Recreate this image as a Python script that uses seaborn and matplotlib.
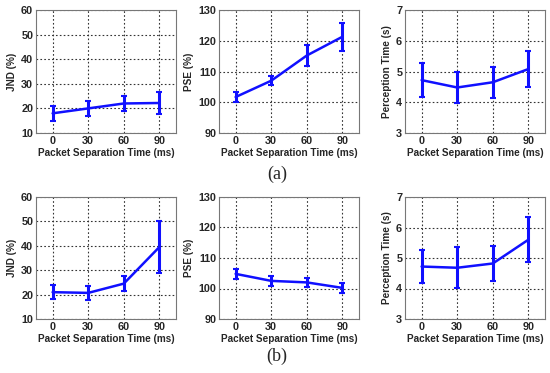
import numpy as np
import pandas as pd
import matplotlib
matplotlib.use('Agg')
import matplotlib.pyplot as plt
import seaborn as sns

times = [0, 30, 60, 90]

# row (a)
jnd_a = [18.0, 20.0, 22.0, 22.2]
jnd_a_err = [3.0, 3.0, 3.0, 4.3]
pse_a = [101.7, 107.0, 115.2, 121.3]
pse_a_err = [1.7, 1.5, 3.5, 4.5]
pt_a = [4.72, 4.48, 4.65, 5.08]
pt_a_err = [0.55, 0.50, 0.50, 0.58]

# row (b)
jnd_b = [21.0, 20.7, 24.5, 39.5]
jnd_b_err = [2.8, 2.8, 3.2, 10.7]
pse_b = [104.8, 102.5, 102.0, 100.2]
pse_b_err = [1.6, 1.7, 1.4, 1.6]
pt_b = [4.72, 4.68, 4.82, 5.60]
pt_b_err = [0.55, 0.67, 0.58, 0.74]

ylabels = ['JND (%)', 'PSE (%)', 'Perception Time (s)']
ylims = [(10, 60), (90, 130), (3, 7)]
yticks = [[10, 20, 30, 40, 50, 60], [90, 100, 110, 120, 130], [3, 4, 5, 6, 7]]

sns.set_style('white')
plt.rcParams['font.family'] = ['Liberation Sans', 'DejaVu Sans']
plt.rcParams['font.weight'] = 'bold'

fig = plt.figure(figsize=(5.5, 3.73), dpi=100)

lefts = [36 / 550, 219 / 550, 405 / 550]
width = 140 / 550
rows = [(1 - 133 / 373, 123 / 373), (1 - 319 / 373, 122 / 373)]
data = [[(jnd_a, jnd_a_err), (pse_a, pse_a_err), (pt_a, pt_a_err)],
        [(jnd_b, jnd_b_err), (pse_b, pse_b_err), (pt_b, pt_b_err)]]
blue = '#1010ff'
fs_tick = 7.8
fs_lab = 7.2

for r, (bottom, height) in enumerate(rows):
    for c in range(3):
        ax = fig.add_axes([lefts[c], bottom, width, height])
        vals, errs = data[r][c]
        df = pd.DataFrame({'t': times, 'v': vals})
        sns.lineplot(data=df, x='t', y='v', ax=ax, color=blue, linewidth=1.8)
        ax.errorbar(times, vals, yerr=errs, fmt='none', ecolor=blue,
                    elinewidth=2.2, capsize=2, capthick=1.5)
        ax.set_xlim(-14, 104)
        ax.set_ylim(*ylims[c])
        ax.set_xticks(times)
        ax.set_yticks(yticks[c])
        ax.grid(True, color='#333333', linestyle=(0, (1.5, 2)), linewidth=0.8)
        ax.set_axisbelow(True)
        for s in ax.spines.values():
            s.set_color('#777777')
            s.set_linewidth(0.8)
        ax.tick_params(axis='both', length=0, labelsize=fs_tick, pad=2)
        for lab in ax.get_xticklabels() + ax.get_yticklabels():
            lab.set_fontweight('bold')
        ax.set_xlabel('Packet Separation Time (ms)', fontsize=fs_lab,
                      fontweight='bold', labelpad=1.5)
        ax.set_ylabel(ylabels[c], fontsize=fs_lab, fontweight='bold', labelpad=3)

fig.text(277 / 550, 1 - 174 / 373, '(a)', ha='center', va='center',
         fontsize=13, family=['Liberation Serif', 'DejaVu Serif'],
         fontweight='normal')
fig.text(277 / 550, 1 - 356 / 373, '(b)', ha='center', va='center',
         fontsize=13, family=['Liberation Serif', 'DejaVu Serif'],
         fontweight='normal')

fig.savefig('out.png', dpi=100, facecolor='white')
